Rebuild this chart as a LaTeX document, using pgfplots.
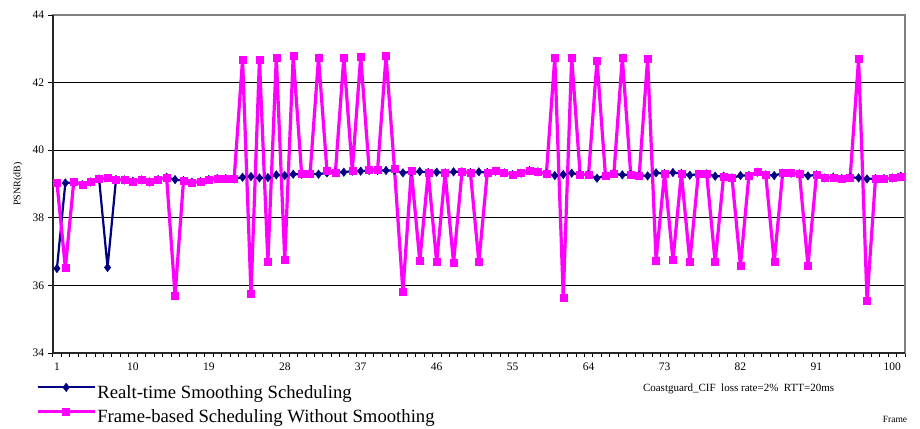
\documentclass[border=0pt]{standalone}
\usepackage{fontspec}
\setmainfont{Liberation Serif}
\usepackage{pgfplots}
\usepackage{pgfplotstable}
\pgfplotsset{compat=1.18}

\definecolor{rtblue}{RGB}{0,0,128}
\definecolor{fbpink}{RGB}{255,0,255}

% frame, PSNR (dB)
\pgfplotstableread{
f psnr
1 36.50
2 39.03
3 39.05
4 38.98
5 39.06
6 39.15
7 36.53
8 39.13
9 39.12
10 39.08
11 39.12
12 39.06
13 39.13
14 39.20
15 39.13
16 39.10
17 39.05
18 39.07
19 39.13
20 39.16
21 39.16
22 39.15
23 39.20
24 39.22
25 39.18
26 39.19
27 39.27
28 39.25
29 39.29
30 39.29
31 39.30
32 39.29
33 39.33
34 39.34
35 39.35
36 39.38
37 39.38
38 39.40
39 39.40
40 39.40
41 39.40
42 39.33
43 39.36
44 39.37
45 39.34
46 39.35
47 39.33
48 39.36
49 39.36
50 39.34
51 39.36
52 39.34
53 39.38
54 39.33
55 39.28
56 39.32
57 39.40
58 39.36
59 39.30
60 39.25
61 39.28
62 39.32
63 39.28
64 39.28
65 39.17
66 39.25
67 39.30
68 39.27
69 39.28
70 39.26
71 39.24
72 39.33
73 39.31
74 39.34
75 39.31
76 39.26
77 39.29
78 39.30
79 39.23
80 39.23
81 39.18
82 39.25
83 39.25
84 39.35
85 39.27
86 39.25
87 39.32
88 39.32
89 39.30
90 39.24
91 39.27
92 39.18
93 39.20
94 39.16
95 39.20
96 39.18
97 39.15
98 39.16
99 39.16
100 39.18
101 39.23
}\realtime

\pgfplotstableread{
f psnr
1 39.05
2 36.52
3 39.08
4 38.98
5 39.06
6 39.15
7 39.18
8 39.13
9 39.12
10 39.08
11 39.12
12 39.06
13 39.13
14 39.20
15 35.70
16 39.10
17 39.05
18 39.07
19 39.13
20 39.16
21 39.16
22 39.15
23 42.69
24 35.75
25 42.68
26 36.70
27 42.75
28 36.75
29 42.79
30 39.29
31 39.30
32 42.74
33 39.39
34 39.34
35 42.74
36 39.40
37 42.78
38 39.42
39 39.42
40 42.79
41 39.44
42 35.82
43 39.40
44 36.72
45 39.34
46 36.69
47 39.32
48 36.67
49 39.36
50 39.34
51 36.69
52 39.34
53 39.38
54 39.33
55 39.28
56 39.32
57 39.40
58 39.36
59 39.30
60 42.74
61 35.65
62 42.75
63 39.28
64 39.28
65 42.66
66 39.25
67 39.30
68 42.73
69 39.28
70 39.26
71 42.70
72 36.74
73 39.31
74 36.75
75 39.31
76 36.70
77 39.29
78 39.30
79 36.69
80 39.23
81 39.18
82 36.58
83 39.25
84 39.35
85 39.27
86 36.69
87 39.32
88 39.32
89 39.30
90 36.58
91 39.27
92 39.18
93 39.20
94 39.16
95 39.20
96 42.70
97 35.55
98 39.16
99 39.16
100 39.18
101 39.23
}\framebased

\begin{document}
\begin{tikzpicture}
\begin{axis}[
    at={(52.7pt,75pt)}, anchor=south west,
    scale only axis, width=852.3pt, height=338pt,
    xmin=0.5, xmax=101.5, ymin=34, ymax=44,
    xtick={1,10,...,100}, minor xtick={0.5,1.5,...,101.5},
    ytick={34,36,...,44},
    major x tick style={draw=none},
    minor tick length=4pt, major tick length=5pt,
    tick align=outside, tick style={black, line width=0.6pt},
    xtick pos=bottom, ytick pos=left,
    ymajorgrids, major grid style={black, line width=0.8pt},
    axis line style={draw=gray, line width=2.4pt},
    /pgf/number format/assume math mode=true,
    tick label style={font=\fontsize{11.5}{13}\selectfont},
    xticklabel style={yshift=-1pt},
    ylabel={PSNR(dB)},
    ylabel style={font=\fontsize{12.5}{14}\selectfont},
    every axis y label/.style={at={(axis description cs:-0.0407,0.5)}, rotate=90, anchor=center},
    xlabel={Frame},
    every axis x label/.style={at={(axis description cs:0.9883,-0.198)}, anchor=center, font=\fontsize{9.5}{11}\selectfont},
    clip=false,
    legend image code/.code={\draw[mark repeat=2,mark phase=2,#1] plot coordinates {(0pt,6.5pt) (28.5pt,6.5pt) (57pt,6.5pt)};},
    legend style={draw=none, fill=none, inner sep=0pt, outer sep=0pt,
        at={(axis description cs:-0.0195,-0.0890)}, anchor=north west,
        font=\fontsize{18.7}{20}\selectfont, row sep=5.6pt, column sep=1pt,
        nodes={inner sep=0pt, text height=13pt, text depth=4pt}},
    legend cell align=left,
]
\addplot[rtblue, line width=2.2pt, mark=diamond*, mark size=4.3pt,
    mark options={line width=0.4pt, fill=rtblue, draw=rtblue}]
    table[x=f, y=psnr] {\realtime};
\addlegendentry{Realt-time Smoothing Scheduling}
\addplot[fbpink, line width=3.2pt, mark=square*, mark size=3.5pt,
    mark options={line width=0.4pt, fill=fbpink, draw=fbpink}]
    table[x=f, y=psnr] {\framebased};
\addlegendentry{Frame-based Scheduling Without Smoothing}
\draw[black!85, line width=1.6pt] (rel axis cs:0,1) -- (rel axis cs:0,0) -- (rel axis cs:1,0);
\node[font=\fontsize{11}{13}\selectfont, anchor=center] at (rel axis cs:0.8047,-0.1065)
    {Coastguard\_CIF\ \ loss rate=2\%\ \ RTT=20ms};
\end{axis}
\pgfresetboundingbox
\path[use as bounding box] (0,0) rectangle (920pt,428pt);
\end{tikzpicture}
\end{document}
